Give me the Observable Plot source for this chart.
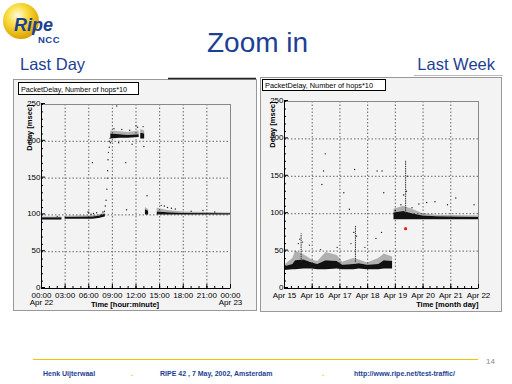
<!DOCTYPE html>
<html><head><meta charset="utf-8">
<script src="https://cdn.jsdelivr.net/npm/d3@7"></script>
<script src="https://cdn.jsdelivr.net/npm/@observablehq/plot@0.6"></script>
<style>
body{margin:0;background:#fff;}
#slide{position:relative;width:512px;height:384px;overflow:hidden;background:#fff;font-family:"Liberation Sans",Arial,sans-serif;}
#bg{position:absolute;left:0;top:0;}
.chart{position:absolute;}
</style></head><body>
<div id="slide">
<svg id="bg" width="512" height="384" xmlns="http://www.w3.org/2000/svg">
  <defs><radialGradient id="gold" cx="40%" cy="35%" r="65%">
    <stop offset="0" stop-color="#fffbe0"/><stop offset="0.45" stop-color="#f8dc3c"/><stop offset="1" stop-color="#dca200"/>
  </radialGradient></defs>
  <circle cx="21" cy="21" r="18" fill="url(#gold)"/>
  <text x="14" y="31" font-size="18" font-style="italic" font-weight="bold" fill="#1d3f93">Ripe</text>
  <text x="38" y="43" font-size="9.5" font-weight="bold" fill="#1d3f93" letter-spacing="0.5">NCC</text>
  <text x="207" y="52" font-size="28" fill="#1d3f93">Zoom in</text>
  <text x="20" y="70" font-size="16.5" fill="#1d3f93">Last Day</text>
  <text x="495" y="70" font-size="16.5" fill="#1d3f93" text-anchor="end">Last Week</text>
  <line x1="414" x2="503" y1="75.5" y2="75.5" stroke="#bbb"/>
  <rect x="13.5" y="79.5" width="243" height="231" fill="#f3f3f3" stroke="#999"/>
  <line x1="168" x2="256" y1="78.5" y2="78.5" stroke="#222" stroke-width="1.5"/>
  <rect x="260.5" y="77.5" width="241" height="234" fill="#f3f3f3" stroke="#999"/>
  <rect x="18.5" y="82.5" width="120" height="12" fill="#fff" stroke="#000"/>
  <text x="21" y="91.5" font-size="8" textLength="106" lengthAdjust="spacingAndGlyphs" fill="#000">PacketDelay, Number of hops*10</text>
  <rect x="262.5" y="79.5" width="123" height="11" fill="#fff" stroke="#000"/>
  <text x="265" y="88.3" font-size="8" textLength="108" lengthAdjust="spacingAndGlyphs" fill="#000">PacketDelay, Number of hops*10</text>
  <line x1="33" x2="478" y1="359.5" y2="359.5" stroke="#f0c400" stroke-width="1.2"/>
  <g font-size="7" font-weight="bold" fill="#1d3f93">
    <text x="43" y="376">Henk Uijterwaal</text>
    <text x="160" y="376">RIPE 42 ,  7 May, 2002, Amsterdam</text>
    <text x="354" y="376">http://www.ripe.net/test-traffic/</text>
  </g>
  <text x="131" y="376" font-size="8" font-weight="bold" fill="#f0c400">.</text>
  <text x="322" y="376" font-size="8" font-weight="bold" fill="#f0c400">.</text>
  <text x="486" y="364" font-size="8" fill="#888">14</text>
</svg>
<div id="left" class="chart" style="left:13px;top:95px"></div>
<div id="right" class="chart" style="left:260px;top:93px"></div>
</div>
<script>
// ---------- shared y axis ----------
const yMajor = [0, 50, 100, 150, 200, 250];
const yMinor = [0,10,20,30,40,50,60,70,80,90,100,110,120,130,140,150,160,170,180,190,200,210,220,230,240,250];

// ---------- Last Day (hours since Apr 22 00:00) ----------
const leftTickHours = [0, 3, 6, 9, 12, 15, 18, 21, 24];
const leftTickLabels = ["00:00","03:00","06:00","09:00","12:00","15:00","18:00","21:00","00:00"];
const leftDateLabels = ["Apr 22","","","","","","","","Apr 23"];
const leftMinorHours = [0,1,2,3,4,5,6,7,8,9,10,11,12,13,14,15,16,17,18,19,20,21,22,23,24];
// dense band of measurements: segment id, hour, lower and upper delay
const leftBandSeg = [0,0, 1,1,1,1, 2,2,2,2, 3,3, 4,4, 5,5,5,5];
const leftBandX   = [0,2.6, 3.0,6.5,7.3,8.1, 8.8,10,11,12.4, 12.6,13.1, 13.2,13.6, 14.7,16,18,24];
const leftBandLo  = [93,93, 94,94,95,97, 203,204,204,205, 203,203, 100,100, 100,100,100,100];
const leftBandHi  = [96,96, 96.5,97,98,101, 210,209,208,209, 211,210, 107,105, 104,103,102,101.5];
const leftHaloHi  = [97,97, 98,99,100,103, 214,213,212,214, 216,214, 110,107, 109,106,104,102.5];
// isolated measurements
const leftDotX = [6.46,9.55,10.7,10.8,13.4,8.0,8.1,8.2,8.3,8.35,8.4,8.45,8.5,8.6,8.65,13.0,12.9,6.0,6.3,7.0,15.2,16.0,17.0,20.5,22,2.0,11.5,9.8,12.0,5.9,6.6,7.6,7.8,9.2,10.2,11.2,12.2,15.6,16.5,19.0,8.7,8.75];
const leftDotY = [171,248,171,107,126,105,112,120,135,150,160,175,185,192,200,193,220,103,101,103,113,110,108,106,104,98,196,198,221,104,102,100,104,217,216,215,219,112,109,105,204,198];

// ---------- Last Week (days since Apr 15) ----------
const rightTickDays = [0,1,2,3,4,5,6,7];
const rightTickLabels = ["Apr 15","Apr 16","Apr 17","Apr 18","Apr 19","Apr 20","Apr 21","Apr 22"];
const rightMinorDays = [0,0.25,0.5,0.75,1,1.25,1.5,1.75,2,2.25,2.5,2.75,3,3.25,3.5,3.75,4,4.25,4.5,4.75,5,5.25,5.5,5.75,6,6.25,6.5,6.75,7];
const rightBandSeg = [0,0,0,0,0,0,0,0,0,0,0,0,0,0,0, 1,1,1,1,1,1];
const rightBandX   = [0,0.3,0.4,0.7,1.0,1.2,1.5,1.9,2.1,2.5,2.7,3.0,3.4,3.6,3.9, 3.95,4.3,4.6,5.0,5.5,7.0];
const rightBandLo  = [24,25,25,26,26,25,25,26,25,25,26,25,25,26,26, 92,92,92,92,92,92];
const rightBandHi  = [29,32,37,38,34,32,37,36,31,32,33,31,32,37,36, 101,103,100,97,96,95];
const rightHaloHi  = [31,40,50,45,38,36,48,44,35,40,38,34,40,46,42, 106,110,106,100,98,97];
// narrow spikes of scattered delay
const rightSpikeX  = [0.6, 2.56, 4.37];
const rightSpikeLo = [35, 35, 100];
const rightSpikeHi = [73, 83, 171];
const rightDotX = [1.47,1.41,1.35,2.53,2.14,3.34,3.52,3.58,2.34,4.85,5.13,5.43,5.88,6.18,6.84,2.4,1.9,3.3,3.5,0.5,2.9,4.4,4.45,4.3,1.3,0.9,3.8,0.55,0.65,2.5,2.6,4.2,4.6,4.0];
const rightDotY = [180,157,139,159,128,157,157,128,106,113,115,116,112,121,112,60,55,67,75,60,55,130,150,125,52,58,50,66,62,75,70,112,108,104];
const redX = [4.37];
const redY = [80];

function rows(cols) {
  const keys = Object.keys(cols);
  return cols[keys[0]].map((_, i) => Object.fromEntries(keys.map(k => [k, cols[k][i]])));
}

const font = {background: "transparent", fontFamily: "'Liberation Sans',Arial,sans-serif", fontSize: "8px", color: "#000", overflow: "visible"};

function chart({width, height, margins, domainX, majorX, minorX, fmtX, band, halo, dots, spikes, red, xLabel, xLabelAnchor, xLabelDx, xLabelDy}) {
  return Plot.plot({
    width, height, ...margins,
    style: font,
    x: {domain: domainX, label: null},
    y: {domain: [0, 250], label: null},
    marks: [
      Plot.gridX(majorX, {stroke: "#666", strokeOpacity: 1, strokeDasharray: "1.5,2"}),
      Plot.gridY(yMajor, {stroke: "#666", strokeOpacity: 1, strokeDasharray: "1.5,2"}),
      Plot.frame({stroke: "#888"}),
      Plot.areaY(halo, {x: "x", y1: "lo", y2: "hi", z: "seg", fill: "#222", fillOpacity: 0.32, curve: "linear"}),
      Plot.areaY(band, {x: "x", y1: "lo", y2: "hi", z: "seg", fill: "#111", curve: "linear"}),
      spikes ? Plot.ruleX(spikes, {x: "x", y1: "lo", y2: "hi", stroke: "#333", strokeWidth: 1, strokeDasharray: "1.5,0.8"}) : null,
      Plot.dot(dots, {x: "x", y: "y", r: 0.7, fill: "#222", stroke: null}),
      red ? Plot.dot(red, {x: "x", y: "y", r: 1.6, fill: "#e02020", stroke: null}) : null,
      Plot.ruleX([domainX[0]], {stroke: "#000"}),
      Plot.ruleY([0], {stroke: "#000"}),
      Plot.axisY(yMinor, {anchor: "left", tickSize: -2, fill: "none", label: null}),
      Plot.axisY(yMajor, {anchor: "left", tickSize: -4, tickPadding: 5, dy: -1, label: null}),
      Plot.axisX(minorX, {anchor: "bottom", tickSize: -2, fill: "none", label: null}),
      Plot.axisX(majorX, {anchor: "bottom", tickSize: -4, tickPadding: 8, tickFormat: fmtX, lineHeight: 0.95, label: null}),
      Plot.text(["Delay [msec]"], {frameAnchor: "top-left", rotate: -90, textAnchor: "end", dx: -15, fontWeight: "bold", fontSize: 7.5}),
      Plot.text([xLabel], {frameAnchor: xLabelAnchor, textAnchor: xLabelAnchor === "bottom" ? "middle" : "end", dx: xLabelDx, dy: xLabelDy, fontWeight: "bold", fontSize: 7.5})
    ]
  });
}

const leftFmt = new Map(leftTickHours.map((h, i) => [h, leftTickLabels[i] + (leftDateLabels[i] ? "\n" + leftDateLabels[i] : "")]));
document.getElementById("left").append(chart({
  width: 244, height: 216,
  margins: {marginLeft: 28, marginRight: 27, marginTop: 9, marginBottom: 23},
  domainX: [0, 24], majorX: leftTickHours, minorX: leftMinorHours,
  fmtX: d => leftFmt.get(d),
  band: rows({seg: leftBandSeg, x: leftBandX, lo: leftBandLo, hi: leftBandHi}),
  halo: rows({seg: leftBandSeg, x: leftBandX, lo: leftBandHi, hi: leftHaloHi}),
  dots: rows({x: leftDotX, y: leftDotY}),
  xLabel: "Time [hour:minute]", xLabelAnchor: "bottom", xLabelDx: -11, xLabelDy: 18.5
}));

const rightFmt = new Map(rightTickDays.map((d, i) => [d, rightTickLabels[i]]));
document.getElementById("right").append(chart({
  width: 242, height: 219,
  margins: {marginLeft: 24, marginRight: 24, marginTop: 8, marginBottom: 24},
  domainX: [0, 7], majorX: rightTickDays, minorX: rightMinorDays,
  fmtX: d => rightFmt.get(d),
  band: rows({seg: rightBandSeg, x: rightBandX, lo: rightBandLo, hi: rightBandHi}),
  halo: rows({seg: rightBandSeg, x: rightBandX, lo: rightBandHi, hi: rightHaloHi}),
  dots: rows({x: rightDotX, y: rightDotY}),
  spikes: rows({x: rightSpikeX, lo: rightSpikeLo, hi: rightSpikeHi}),
  red: rows({x: redX, y: redY}),
  xLabel: "Time [month day]", xLabelAnchor: "bottom-right", xLabelDx: 0, xLabelDy: 18.5
}));
</script>
</body></html>
